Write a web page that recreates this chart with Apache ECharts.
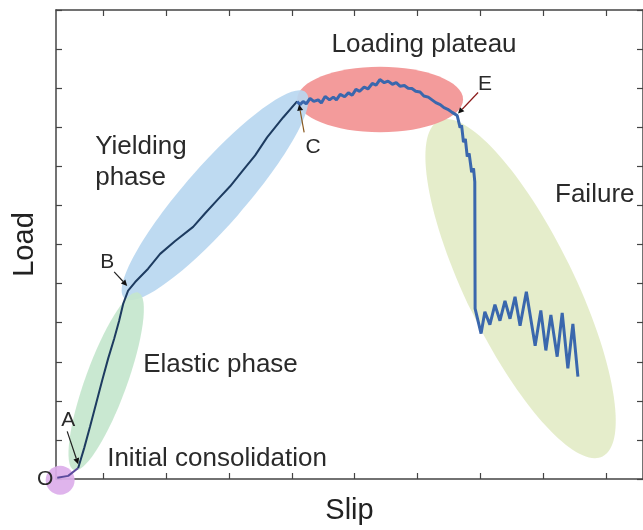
<!DOCTYPE html>
<html>
<head>
<meta charset="utf-8">
<script src="https://cdn.jsdelivr.net/npm/echarts@6/dist/echarts.min.js"></script>
<style>html,body{margin:0;padding:0;background:#fff;}#c{width:643px;height:530px;}</style>
</head>
<body>
<div id="c"></div>
<script>
// ---- data (slip / load, arbitrary units) ----
const slip = [-0.73,-0.556,-0.397,-0.302,-0.207,-0.111,-0.016,0.079,0.175,0.254,0.318,0.397,
  0.509,0.715,0.906,1.145,1.431,1.622,1.828,2.019,2.210,2.417,2.607,2.862,3.084,
  3.13,3.18,3.23,3.29,3.35,3.42,3.47,3.53,3.60,3.66,3.71,3.77,3.84,3.90,3.96,4.02,4.08,4.15,4.21,4.28,4.34,4.40,
  4.47,4.53,4.60,4.66,4.72,4.79,4.85,4.91,4.97,5.04,5.10,5.17,5.23,5.29,5.36,5.42,5.48,5.55,5.63,
  5.676,5.70,5.73,5.76,5.79,5.82,5.86,5.89,5.91,5.915,
  5.93,6.01,6.07,6.15,6.23,6.31,6.39,6.47,6.55,6.63,6.73,6.87,6.96,7.04,7.12,7.22,7.30,7.39,7.47,7.55];
const load = [0.03,0.08,0.28,0.79,1.35,1.94,2.52,3.08,3.59,4.05,4.48,4.82,
  5.04,5.38,5.76,6.09,6.45,6.80,7.16,7.49,7.87,8.28,8.74,9.25,9.66,
  9.58,9.66,9.60,9.74,9.66,9.70,9.62,9.79,9.70,9.77,9.70,9.84,9.78,9.88,9.82,9.97,9.92,10.03,9.98,10.12,10.08,10.22,
  10.14,10.18,10.10,10.14,10.05,10.07,10.00,9.99,9.92,9.90,9.80,9.77,9.70,9.63,9.58,9.50,9.46,9.38,9.30,
  8.99,9.05,8.62,8.70,8.25,8.33,7.85,7.95,7.60,4.36,
  4.36,3.72,4.28,3.95,4.46,4.05,4.56,4.10,4.66,3.92,4.79,3.41,4.31,3.29,4.20,3.13,4.25,2.83,3.97,2.62];
const idxA = 2, idxC = 24;
const xTicks = [0,1,2,3,4,5,6,7,8];

// phase regions: centre slip, centre load, semi-axes (slip units), tilt (deg)
const phaseNames = ['Failure','Loading plateau','Initial consolidation','Yielding phase','Elastic phase'];
const phaseCx = [6.64, 4.404, -0.684, 1.781, 0.048];
const phaseCy = [4.87, 9.71, -0.03, 7.26, 2.50];
const phaseA  = [2.97, 1.32, 0.23, 2.18, 1.50];
const phaseB  = [0.86, 0.52, 0.23, 0.48, 0.33];
const phaseTilt = [-64, 0, 0, 48.7, 70];
const phaseFill = ['#e3ecc7','#f29393','#dcaeea','#b9d7f0','#c4e6cd'];

// text labels anchored in data space
const labelText = ['Loading plateau','Yielding\nphase','Elastic phase','Initial consolidation','Failure','A','B','C','E','O'];
const labelX = [5.103,-0.127,0.636,0.064,7.186,-0.556,0.064,3.339,6.073,-0.922];
const labelY = [11.10,8.10,2.93,0.51,7.27,1.50,5.55,8.48,10.09,0.0];
const labelSize = [26,26,26,26,26,21,21,21,21,21];
const labelAlign = ['center','left','left','left','left','center','center','center','center','center'];

// callouts: from (x0,y0) to point (x1,y1)
const callX0 = [-0.572,0.175,3.196,5.962];
const callY0 = [1.22,5.30,8.87,9.89];
const callX1 = [-0.397,0.382,3.116,5.644];
const callY1 = [0.38,4.94,9.58,9.35];
const callColor = ['#222','#222','#8a5a20','#8b1a1a'];

const pts = slip.map((s,i)=>[s,load[i]]);

const chart = echarts.init(document.getElementById('c'), null, {renderer:'canvas'});
const axisCol = '#444';
const fontFam = '"Liberation Sans", Arial, Helvetica, sans-serif';

const option = {
  animation:false,
  backgroundColor:'#fff',
  grid:{left:56, right:0, top:10, bottom:49, containLabel:false},
  xAxis:[
    {type:'value', min:-0.75, max:8.585, position:'bottom',
     name:'Slip', nameLocation:'middle', nameGap:17,
     nameTextStyle:{fontSize:29, color:'#222', fontFamily:fontFam},
     axisLine:{show:true, onZero:false, lineStyle:{color:axisCol, width:1.5}},
     axisTick:{show:true, inside:true, length:6, customValues:xTicks, lineStyle:{color:axisCol, width:1.2}},
     axisLabel:{show:false}, splitLine:{show:false}},
    {type:'value', min:-0.75, max:8.585, position:'top',
     axisLine:{show:true, onZero:false, lineStyle:{color:axisCol, width:1.5}},
     axisTick:{show:true, inside:true, length:6, customValues:xTicks, lineStyle:{color:axisCol, width:1.2}},
     axisLabel:{show:false}, splitLine:{show:false}}
  ],
  yAxis:[
    {type:'value', min:0, max:12, interval:1, position:'left',
     name:'Load', nameLocation:'middle', nameGap:17,
     nameTextStyle:{fontSize:29, color:'#222', fontFamily:fontFam},
     axisLine:{show:true, onZero:false, lineStyle:{color:axisCol, width:1.5}},
     axisTick:{show:true, inside:true, length:6, lineStyle:{color:axisCol, width:1.2}},
     axisLabel:{show:false}, splitLine:{show:false}},
    {type:'value', min:0, max:12, interval:1, position:'right',
     axisLine:{show:true, onZero:false, lineStyle:{color:axisCol, width:1.5}},
     axisTick:{show:true, inside:true, length:6, lineStyle:{color:axisCol, width:1.2}},
     axisLabel:{show:false}, splitLine:{show:false}}
  ],
  series:[
    {type:'custom', name:'phases', clip:false, z:1, silent:true,
     data: phaseCx.map((c,i)=>[c, phaseCy[i], phaseA[i], phaseB[i], phaseTilt[i]]),
     renderItem:function(params, api){
       const c = api.coord([api.value(0), api.value(1)]);
       const rx = api.size([api.value(2), 0])[0];
       const ry = api.size([api.value(3), 0])[0];
       return {type:'ellipse', x:c[0], y:c[1], rotation: api.value(4)*Math.PI/180,
         shape:{cx:0, cy:0, rx:rx, ry:ry},
         style:{fill: phaseFill[params.dataIndex], opacity:0.92}};
     }},
    {type:'line', name:'consolidation', data: pts.slice(0, idxA+1), symbol:'none', z:3,
     lineStyle:{color:'#5b4a9c', width:2}},
    {type:'line', name:'elastic-yield', data: pts.slice(idxA, idxC+1), symbol:'none', z:3,
     lineStyle:{color:'#1d3b60', width:2}},
    {type:'line', name:'plateau-failure', data: pts.slice(idxC), symbol:'none', z:3,
     lineStyle:{color:'#3a67ad', width:3}},
    {type:'custom', name:'callouts', clip:false, z:4, silent:true,
     data: callX0.map((x,i)=>[x, callY0[i], callX1[i], callY1[i]]),
     renderItem:function(params, api){
       const p0 = api.coord([api.value(0), api.value(1)]);
       const p1 = api.coord([api.value(2), api.value(3)]);
       const col = callColor[params.dataIndex];
       const ang = Math.atan2(p1[1]-p0[1], p1[0]-p0[0]);
       const L = 6, W = 3;
       const bx = p1[0]-L*Math.cos(ang), by = p1[1]-L*Math.sin(ang);
       return {type:'group', children:[
         {type:'line', shape:{x1:p0[0], y1:p0[1], x2:bx, y2:by}, style:{stroke:col, lineWidth:1.2}},
         {type:'polygon', shape:{points:[[p1[0],p1[1]],[bx - W*Math.sin(ang), by + W*Math.cos(ang)],[bx + W*Math.sin(ang), by - W*Math.cos(ang)]]},
          style:{fill:'#111'}}
       ]};
     }},
    {type:'custom', name:'labels', clip:false, z:5, silent:true,
     data: labelX.map((x,i)=>[x, labelY[i]]),
     renderItem:function(params, api){
       const i = params.dataIndex;
       const p = api.coord([api.value(0), api.value(1)]);
       return {type:'text', x:p[0], y:p[1],
         style:{text:labelText[i], fill:'#2a2a2a', fontSize:labelSize[i], fontFamily:fontFam,
           align:labelAlign[i], verticalAlign:'middle', lineHeight:31}};
     }}
  ]
};
chart.setOption(option);
</script>
</body>
</html>
